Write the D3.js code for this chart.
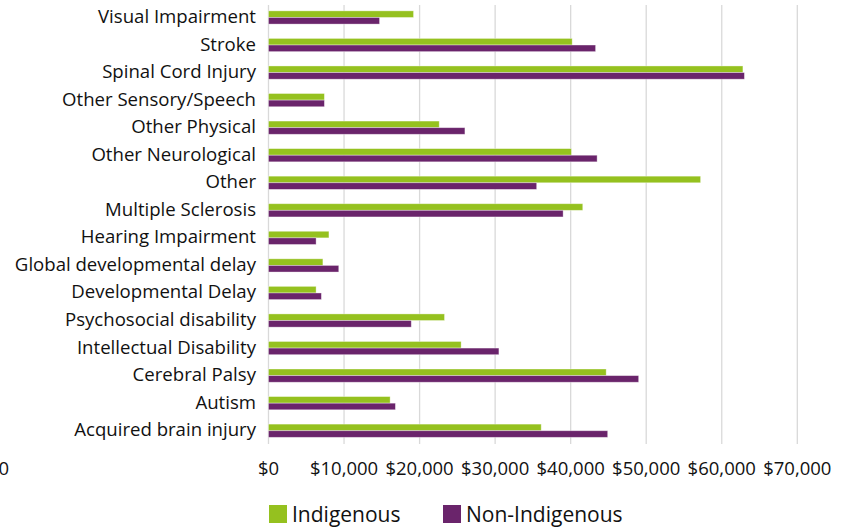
<!DOCTYPE html>
<html>
<head>
<meta charset="utf-8">
<script src="https://d3js.org/d3.v7.min.js"></script>
<style>
  body { margin: 0; background: #fff; }
  text { font-family: "Open Sans", sans-serif; fill: #111; }
</style>
</head>
<body>
<div id="chart"></div>
<script>
// categories top to bottom
const categories = ["Visual Impairment", "Stroke", "Spinal Cord Injury", "Other Sensory/Speech",
  "Other Physical", "Other Neurological", "Other", "Multiple Sclerosis", "Hearing Impairment",
  "Global developmental delay", "Developmental Delay", "Psychosocial disability",
  "Intellectual Disability", "Cerebral Palsy", "Autism", "Acquired brain injury"];
const indigenous = [19200, 40200, 62800, 7400, 22600, 40100, 57200, 41600, 8000, 7200, 6300, 23300, 25500, 44700, 16100, 36100];
const nonIndigenous = [14700, 43300, 63000, 7400, 26000, 43500, 35500, 39000, 6300, 9300, 7000, 18900, 30500, 49000, 16800, 44900];
const series = ["Indigenous", "Non-Indigenous"];
const tickValues = [0, 10000, 20000, 30000, 40000, 50000, 60000, 70000];

const W = 848, H = 528;
const colors = {"Indigenous": "#95c11f", "Non-Indigenous": "#6a246b"};

const svg = d3.select("#chart").append("svg")
  .attr("width", W).attr("height", H);

const x = d3.scaleLinear().domain([0, 70000]).range([268.5, 797.3]);
const y = d3.scaleBand().domain(categories).range([3.7, 444.5])
  .paddingInner(0.52).paddingOuter(0.26);
const ySub = d3.scaleBand().domain(series).range([0, y.bandwidth()]);

// gridlines
svg.append("g").selectAll("line")
  .data(tickValues).enter().append("line")
  .attr("x1", d => x(d)).attr("x2", d => x(d))
  .attr("y1", 5).attr("y2", 444)
  .attr("stroke", "#d9d9d9").attr("stroke-width", 1.3);

// bars
const rows = categories.map((c, i) => ({cat: c, vals: [
  {s: "Indigenous", v: indigenous[i]}, {s: "Non-Indigenous", v: nonIndigenous[i]}]}));

const grp = svg.append("g").selectAll("g")
  .data(rows).enter().append("g")
  .attr("transform", d => "translate(0," + y(d.cat) + ")");

grp.selectAll("rect")
  .data(d => d.vals).enter().append("rect")
  .attr("x", x(0))
  .attr("y", d => ySub(d.s))
  .attr("width", d => x(d.v) - x(0))
  .attr("height", ySub.bandwidth())
  .attr("fill", d => colors[d.s])
  .attr("stroke", "rgba(255,255,255,0.45)")
  .attr("stroke-width", 0.8);

// category labels
svg.append("g").selectAll("text")
  .data(categories).enter().append("text")
  .attr("x", 256)
  .attr("y", d => y(d) + y.bandwidth() / 2 - 1)
  .attr("dy", "0.35em")
  .attr("text-anchor", "end")
  .attr("font-size", 18.6)
  .text(d => d);

// x tick labels
svg.append("g").selectAll("text")
  .data(tickValues).enter().append("text")
  .attr("x", d => x(d))
  .attr("y", 469)
  .attr("dy", "0.35em")
  .attr("text-anchor", "middle")
  .attr("font-size", 18.5)
  .text(d => "$" + d3.format(",")(d));

// stray cut-off label at left edge
svg.append("text")
  .attr("x", 9).attr("y", 469).attr("dy", "0.35em")
  .attr("text-anchor", "end").attr("font-size", 18.5)
  .text("0");

// legend
const legendX = [269, 443];
const leg = svg.append("g").selectAll("g")
  .data(series).enter().append("g")
  .attr("transform", (d, i) => "translate(" + legendX[i] + ",505)");
leg.append("rect")
  .attr("width", 18).attr("height", 18)
  .attr("fill", d => colors[d]);
leg.append("text")
  .attr("x", 23).attr("y", 9.5).attr("dy", "0.35em")
  .attr("font-size", 21)
  .text(d => d);
</script>
</body>
</html>
